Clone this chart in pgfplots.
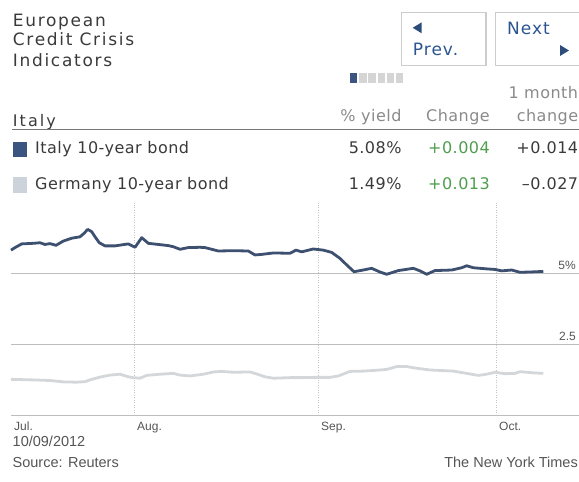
\documentclass[border=0pt]{standalone}
\usepackage{pgfplots}
\pgfplotsset{compat=1.18}
\usepackage{fontspec}
\setmainfont{DejaVu Sans}
\newfontfamily\hdr{DejaVu Sans}[LetterSpace=10]
\newfontfamily\hdrb{DejaVu Sans}[LetterSpace=13]
\newfontfamily\tbl{DejaVu Sans}[LetterSpace=3]
\newfontfamily\btn{DejaVu Sans}[LetterSpace=6]
\newfontfamily\ar{Liberation Sans}
\definecolor{txt}{HTML}{3A3A3A}
\definecolor{colh}{HTML}{8A8A8A}
\definecolor{grn}{HTML}{4E9E4E}
\definecolor{italyc}{HTML}{3D5070}
\definecolor{italysq}{HTML}{3B5580}
\definecolor{gerc}{HTML}{D4D7DA}
\definecolor{gersq}{HTML}{CCD3DA}
\definecolor{btnb}{HTML}{CCCCCC}
\definecolor{btnt}{HTML}{2B5590}
\definecolor{tri}{HTML}{2C4D7A}
\definecolor{pgoff}{HTML}{D5D5D5}
\definecolor{rule}{HTML}{777777}
\definecolor{gridh}{HTML}{BDBDBD}
\definecolor{gridv}{HTML}{C4C4C4}
\definecolor{tickc}{HTML}{555555}
\definecolor{foot}{HTML}{555555}
\begin{document}
\begin{tikzpicture}[x=1pt,y=1pt]
\path[use as bounding box] (0,0) rectangle (579,482);
% header title
\node[anchor=base west,inner sep=0pt,text=txt,font=\hdr\fontsize{17}{20}\selectfont] at (12.7,482-26.7) {European};
\node[anchor=base west,inner sep=0pt,text=txt,font=\hdr\fontsize{17}{20}\selectfont] at (12.7,482-45.7) {Credit Crisis};
\node[anchor=base west,inner sep=0pt,text=txt,font=\hdr\fontsize{17}{20}\selectfont] at (12.7,482-66.7) {Indicators};
% buttons
\draw[btnb,line width=1.5pt] (401.7,482-12.3) rectangle (486,482-65.7);
\draw[btnb,line width=1.5pt] (495.7,482-12.3) rectangle (581,482-65.7);
\fill[tri] (412.7,482-27.8) -- (421.7,482-22.3) -- (421.7,482-33.3) -- cycle;
\fill[tri] (560,482-45) -- (560,482-56) -- (569,482-50.5) -- cycle;
\node[anchor=base west,inner sep=0pt,text=btnt,font=\btn\fontsize{17}{20}\selectfont] at (412.7,482-56) {Prev.};
\node[anchor=base west,inner sep=0pt,text=btnt,font=\btn\fontsize{17}{20}\selectfont] at (507,482-34.3) {Next};
% page indicator
\fill[italysq] (350,482-73.3) rectangle ++(7.3,-9.4);
\foreach \i in {1,...,5} {\fill[pgoff] (350+9.2*\i,482-73.3) rectangle ++(7.3,-9.4);}
% column headers
\node[anchor=base east,inner sep=0pt,text=colh,font=\tbl\fontsize{16}{19}\selectfont] at (578.3,482-98.3) {1 month};
\node[anchor=base east,inner sep=0pt,text=colh,font=\tbl\fontsize{16}{19}\selectfont] at (401.7,482-121.7) {\% yield};
\node[anchor=base east,inner sep=0pt,text=colh,font=\tbl\fontsize{16}{19}\selectfont] at (490,482-121.7) {Change};
\node[anchor=base east,inner sep=0pt,text=colh,font=\tbl\fontsize{16}{19}\selectfont] at (578.3,482-121.7) {change};
\node[anchor=base west,inner sep=0pt,text=txt,font=\hdrb\fontsize{16}{19}\selectfont] at (12.7,482-126.7) {Italy};
\draw[rule,line width=1.3pt] (12,482-129.5) -- (579,482-129.5);
% rows
\fill[italysq] (12.7,482-141.7) rectangle (27.3,482-156.7);
\fill[gersq] (12.7,482-177) rectangle (27.3,482-192.7);
\node[anchor=base west,inner sep=0pt,text=txt,font=\tbl\fontsize{16}{19}\selectfont] at (35,482-153.3) {Italy 10-year bond};
\node[anchor=base west,inner sep=0pt,text=txt,font=\tbl\fontsize{16}{19}\selectfont] at (35,482-190) {Germany 10-year bond};
\node[anchor=base east,inner sep=0pt,text=txt,font=\tbl\fontsize{16}{19}\selectfont] at (401.7,482-153.3) {5.08\%};
\node[anchor=base east,inner sep=0pt,text=grn,font=\tbl\fontsize{16}{19}\selectfont] at (490,482-153.3) {+0.004};
\node[anchor=base east,inner sep=0pt,text=txt,font=\tbl\fontsize{16}{19}\selectfont] at (578.3,482-153.3) {+0.014};
\node[anchor=base east,inner sep=0pt,text=txt,font=\tbl\fontsize{16}{19}\selectfont] at (401.7,482-190) {1.49\%};
\node[anchor=base east,inner sep=0pt,text=grn,font=\tbl\fontsize{16}{19}\selectfont] at (490,482-190) {+0.013};
\node[anchor=base east,inner sep=0pt,text=txt,font=\tbl\fontsize{16}{19}\selectfont] at (578.3,482-190) {–0.027};
% chart
\begin{axis}[at={(11pt,66.3pt)}, anchor=south west, scale only axis,
  width=568pt, height=212.7pt,
  xmin=10.27, xmax=105.99, ymin=0, ymax=7.49,
  axis line style={draw=none}, major tick length=0pt,
  xtick={31,62,92}, xticklabels={Aug.,Sep.,Oct.},
  extra x ticks={10.27}, extra x tick labels={Jul.}, extra x tick style={grid=none},
  ytick={0,2.5,5}, yticklabels={,2.5,5\%}, yticklabel pos=right,
  grid=major,
  major x grid style={draw=gridv, dash pattern=on 1pt off 1.5pt, line width=0.8pt},
  major y grid style={draw=gridh, line width=1pt},
  xticklabel style={anchor=north west, inner sep=0pt, xshift=3pt, yshift=-6pt, font=\ar\fontsize{12}{14}\selectfont, text=tickc},
  yticklabel style={anchor=south east, inner sep=0pt, xshift=-3pt, yshift=3.5pt, font=\ar\fontsize{12}{14}\selectfont, text=tickc},
  clip=false]
\addplot[gerc, line width=2.8pt, line join=round] coordinates {
(10.27,1.28)(14.03,1.26)(16.84,1.24)(19.09,1.19)(21.34,1.18)(22.74,1.20)(23.87,1.28)(25.27,1.36)(26.96,1.43)(28.64,1.46)(30.04,1.37)(30.88,1.34)(32.01,1.32)(33.14,1.42)(35.38,1.46)(37.62,1.49)(38.75,1.43)(40.44,1.40)(42.68,1.46)(44.36,1.54)(45.78,1.56)(47.73,1.53)(50.55,1.54)(51.68,1.47)(53.07,1.37)(54.47,1.32)(57.29,1.34)(59.53,1.34)(61.79,1.35)(64.03,1.35)(65.43,1.40)(67.40,1.56)(69.64,1.57)(71.90,1.60)(73.58,1.63)(75.27,1.73)(76.95,1.73)(78.64,1.67)(80.88,1.61)(84.81,1.57)(87.06,1.49)(89.02,1.42)(90.43,1.46)(91.83,1.53)(93.52,1.48)(95.20,1.49)(96.04,1.55)(98.28,1.51)(99.97,1.49)};
\addplot[italyc, line width=2.8pt, line join=round] coordinates {
(10.27,5.83)(10.95,5.92)(12.08,6.05)(14.03,6.07)(15.16,6.09)(16.00,6.03)(16.84,6.06)(17.86,6.00)(19.09,6.15)(20.50,6.25)(21.90,6.30)(22.57,6.42)(23.20,6.56)(23.87,6.48)(24.43,6.30)(25.15,6.09)(26.11,5.98)(27.80,5.98)(30.04,6.05)(31.17,5.93)(32.30,6.27)(33.41,6.07)(35.09,6.03)(36.78,5.99)(37.62,5.95)(38.75,5.86)(40.15,5.92)(42.12,5.93)(42.96,5.92)(45.21,5.80)(47.73,5.81)(50.26,5.80)(51.39,5.66)(52.52,5.68)(54.47,5.73)(57.29,5.72)(58.30,5.83)(59.26,5.77)(61.21,5.87)(62.90,5.83)(64.31,5.75)(65.71,5.54)(66.84,5.31)(68.07,5.07)(69.64,5.13)(71.05,5.19)(72.45,5.06)(73.58,4.98)(75.54,5.11)(78.07,5.19)(79.19,5.10)(80.32,4.98)(81.72,5.11)(84.54,5.13)(86.22,5.21)(87.06,5.28)(88.18,5.21)(90.43,5.17)(91.83,5.15)(92.96,5.10)(94.65,5.13)(96.04,5.05)(97.73,5.06)(99.97,5.08)};
\end{axis}
% footer
\node[anchor=base west,inner sep=0pt,text=foot,font=\ar\fontsize{14.5}{17}\selectfont] at (12.5,482-447) {10/09/2012};
\node[anchor=base west,inner sep=0pt,text=foot,font=\ar\fontsize{14.5}{17}\selectfont] at (12.5,482-468) {Source: Reuters};
\node[anchor=base east,inner sep=0pt,text=foot,font=\ar\fontsize{14.5}{17}\selectfont] at (578,482-468) {The New York Times};
\end{tikzpicture}
\end{document}
